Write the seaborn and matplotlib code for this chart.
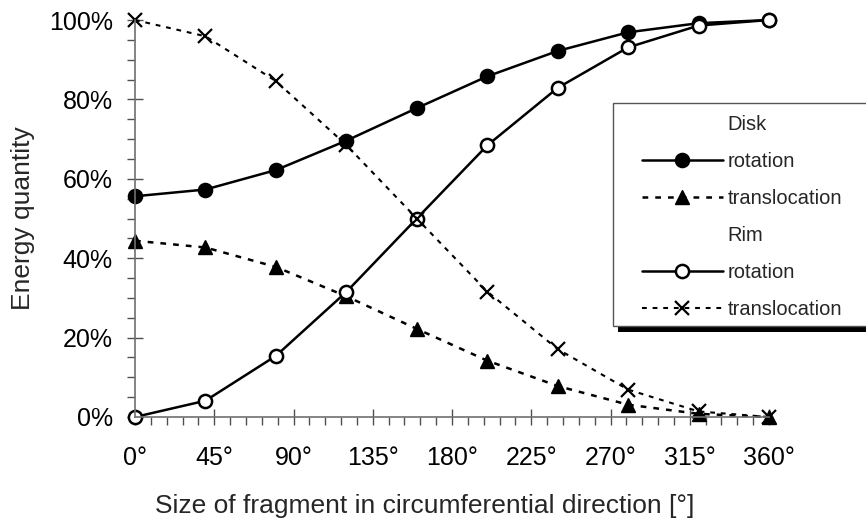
import matplotlib
matplotlib.use("Agg")
import numpy as np
import pandas as pd
import matplotlib.pyplot as plt
import seaborn as sns
from matplotlib.lines import Line2D
from matplotlib.patches import Rectangle
from matplotlib.transforms import IdentityTransform
from matplotlib.ticker import MultipleLocator, FuncFormatter

# fragment size in degrees
angles = [0, 40, 80, 120, 160, 200, 240, 280, 320, 360]

# energy share in percent
disk_rotation = [55.6, 57.3, 62.2, 69.6, 77.8, 85.8, 92.2, 96.9, 99.2, 100.0]
disk_translocation = [44.4, 42.7, 37.8, 30.4, 22.2, 14.2, 7.8, 3.1, 0.8, 0.0]
rim_rotation = [0.0, 4.1, 15.4, 31.5, 50.0, 68.4, 82.9, 93.1, 98.6, 100.0]
rim_translocation = [100.0, 95.9, 84.6, 68.5, 50.0, 31.6, 17.1, 6.9, 1.4, 0.0]

x_ticks = [0, 45, 90, 135, 180, 225, 270, 315, 360]
y_ticks = [0, 20, 40, 60, 80, 100]

sns.set_theme(style='white')
plt.rcParams['font.family'] = ['Liberation Sans', 'DejaVu Sans']

fig = plt.figure(figsize=(8.66, 5.21), dpi=100)
ax = fig.add_axes([135 / 866, 1 - 417 / 521, 634 / 866, 397 / 521])

dash = (0, (2.3, 2.8))
series = [
    (disk_rotation, dict(linestyle='-', lw=1.8, marker='o', ms=10,
                         mfc='black', mec='black', mew=1.2)),
    (disk_translocation, dict(linestyle=dash, lw=1.8, marker='^', ms=10,
                              mfc='black', mec='black', mew=1.0)),
    (rim_rotation, dict(linestyle='-', lw=1.8, marker='o', ms=9.5,
                        mfc='white', mec='black', mew=1.8)),
    (rim_translocation, dict(linestyle=dash, lw=1.5, marker='x', ms=10,
                             mfc='black', mec='black', mew=1.6)),
]

for values, style in series:
    df = pd.DataFrame({'angle': angles, 'energy': values})
    sns.lineplot(data=df, x='angle', y='energy', ax=ax, color='black',
                 clip_on=False, **style)

ax.set_xlim(0, 360)
ax.set_ylim(0, 100)
ax.set_xticks(x_ticks)
ax.set_yticks(y_ticks)
ax.xaxis.set_minor_locator(MultipleLocator(9))
ax.yaxis.set_minor_locator(MultipleLocator(5))
ax.xaxis.set_major_formatter(FuncFormatter(lambda v, p: f'{v:.0f}°'))
ax.yaxis.set_major_formatter(FuncFormatter(lambda v, p: f'{v:.0f}%'))

for side in ['top', 'right']:
    ax.spines[side].set_visible(False)
for side in ['left', 'bottom']:
    ax.spines[side].set_color('#707070')
    ax.spines[side].set_linewidth(1.2)

ax.tick_params(which='both', bottom=True, left=True, colors='#505050',
               labelcolor='black', width=1.0)
ax.tick_params(which='major', direction='inout', length=12, labelsize=18)
ax.tick_params(axis='x', which='major', pad=15)
ax.tick_params(axis='y', which='major', pad=10)
ax.tick_params(which='minor', direction='out', length=5.5)

ax.set_xlabel('Size of fragment in circumferential direction [°]', fontsize=19)
ax.set_ylabel('Energy quantity', fontsize=19)
ax.xaxis.label.set_va('center')
ax.yaxis.label.set_va('center')
ax.xaxis.set_label_coords((425 - 135) / 634, -(506 - 417) / 397)
ax.yaxis.set_label_coords((23 - 135) / 634, 0.5)

handles = [Line2D([], [], linestyle='none')]
handles += [Line2D([], [], color='black', **series[0][1]),
            Line2D([], [], color='black', **series[1][1])]
handles += [Line2D([], [], linestyle='none')]
handles += [Line2D([], [], color='black', **series[2][1]),
            Line2D([], [], color='black', **series[3][1])]
labels = ['Disk', 'rotation', 'translocation', 'Rim', 'rotation', 'translocation']

# legend without frame, frame and shadow drawn behind it
pad = 0.6 * 14.5 * 100 / 72
leg = ax.legend(handles, labels, loc='upper left',
                bbox_to_anchor=((642 - pad) / 866, 1 - 103 / 521),
                bbox_transform=fig.transFigure, fontsize=14.5,
                frameon=False, handlelength=4.0,
                handletextpad=0.25, borderpad=0.6, labelspacing=0.89,
                borderaxespad=0)

frame_top = 521 - 103
frame_bottom = 521 - 326
ax.add_patch(Rectangle((613 + 5, frame_bottom - 6), 300, frame_top - frame_bottom,
                       transform=IdentityTransform(), facecolor='black',
                       edgecolor='none', clip_on=False, zorder=4.5))
ax.add_patch(Rectangle((613, frame_bottom), 300, frame_top - frame_bottom,
                       transform=IdentityTransform(), facecolor='white',
                       edgecolor='#555555', lw=1.0, clip_on=False, zorder=4.7))
ax.set_xlim(0, 360)
ax.set_ylim(0, 100)

fig.savefig('out.png', dpi=100)
